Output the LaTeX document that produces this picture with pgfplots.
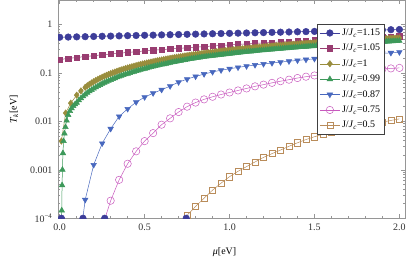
\documentclass[border=0pt]{standalone}
\usepackage{fontspec}
\setmainfont{Liberation Serif}
\usepackage{pgfplots}
\pgfplotsset{compat=1.18}

\definecolor{cA}{RGB}{61,61,153}
\definecolor{cB}{RGB}{153,61,113}
\definecolor{cC}{RGB}{153,141,61}
\definecolor{cD}{RGB}{61,153,90}
\definecolor{cE}{RGB}{72,104,190}
\definecolor{cF}{RGB}{200,90,190}
\definecolor{cG}{RGB}{185,140,90}
\definecolor{frame}{RGB}{150,150,150}

\begin{document}
\begin{tikzpicture}
\begin{axis}[
    width=347bp, height=218bp, scale only axis,
    ymode=log,
    xmin=-0.01, xmax=2.033,
    ymin=1e-4, ymax=3.13,
    axis line style={frame, line width=0.5bp},
    tick style={frame, line width=0.5bp},
    major tick length=4bp, minor tick length=2bp,
    tick align=inside,
    xtick={0,0.5,1,1.5,2},
    xticklabels={0.0,0.5,1.0,1.5,2.0},
    minor x tick num=4,
    ytick={1e-4,1e-3,1e-2,1e-1,1},
    yticklabels={10\textsuperscript{−4},0.001,0.01,0.1,1},
    tick label style={font=\fontsize{10}{11}\selectfont, text=black!80},
    yticklabel style={xshift=-2bp},
    xticklabel style={yshift=-2bp},
    xlabel={\textit{μ}[eV]},
    ylabel={\textit{T}\textsubscript{\textit{k}}[eV]},
    label style={font=\fontsize{10}{11}\selectfont},
    xlabel style={at={(axis description cs:0.48,-0.154)}, anchor=center},
    ylabel style={at={(axis description cs:-0.127,0.5)}, anchor=center, rotate=0},
    clip marker paths=true,
    legend cell align=left,
    legend style={at={(0.942,0.89)}, anchor=north east, draw=black!75,
        fill=white, font=\fontsize{10}{11}\selectfont, row sep=3.3bp,
        inner sep=2.5bp, line width=0.5bp},
    legend image code/.code={
        \draw[mark repeat=2,mark phase=2] plot coordinates {(0cm,0cm) (0.35cm,0cm) (0.7cm,0cm)};},
    every axis plot/.append style={line width=0.5bp},
]
% J/Jc = 1.15
\addplot[cA, mark=*, mark size=3.3bp] coordinates {
(0,0.540) (0.05,0.545) (0.1,0.550) (0.15,0.555) (0.2,0.560) (0.25,0.566) (0.3,0.571)
(0.35,0.576) (0.4,0.582) (0.45,0.587) (0.5,0.593) (0.55,0.598) (0.6,0.604) (0.65,0.609)
(0.7,0.615) (0.75,0.621) (0.8,0.626) (0.85,0.632) (0.9,0.638) (0.95,0.644) (1.0,0.650)
(1.05,0.656) (1.1,0.662) (1.15,0.668) (1.2,0.674) (1.25,0.681) (1.3,0.687) (1.35,0.693)
(1.4,0.700) (1.45,0.706) (1.5,0.713) (1.55,0.719) (1.6,0.726) (1.65,0.732) (1.7,0.739)
(1.75,0.746) (1.8,0.752) (1.85,0.759) (1.9,0.766) (1.95,0.773) (2.0,0.780)};
% J/Jc = 1.05
\addplot[cB, mark=square*, mark size=2.7bp] coordinates {
(0,0.188) (0.05,0.197) (0.1,0.207) (0.15,0.216) (0.2,0.225) (0.25,0.235) (0.3,0.244)
(0.35,0.253) (0.4,0.263) (0.45,0.272) (0.5,0.282) (0.55,0.291) (0.6,0.300) (0.65,0.310)
(0.7,0.319) (0.75,0.328) (0.8,0.338) (0.85,0.347) (0.9,0.356) (0.95,0.366) (1.0,0.375)
(1.05,0.384) (1.1,0.394) (1.15,0.403) (1.2,0.412) (1.25,0.422) (1.3,0.431) (1.35,0.440)
(1.4,0.450) (1.45,0.459) (1.5,0.469) (1.55,0.478) (1.6,0.487) (1.65,0.497) (1.7,0.506)
(1.75,0.515) (1.8,0.525) (1.85,0.534) (1.9,0.543) (1.95,0.553) (2.0,0.562)};
% J/Jc = 1
\addplot[cC, mark=diamond*, mark size=3.2bp] coordinates {
(0.01,0.0039) (0.035,0.0148) (0.065,0.0236) (0.1,0.0345) (0.125,0.0423)
(0.15,0.0501) (0.1625,0.0540) (0.175,0.0579) (0.1875,0.0618) (0.2,0.0656) (0.2125,0.0695)
(0.225,0.0733) (0.2375,0.0771) (0.25,0.0809) (0.2625,0.0847) (0.275,0.0885) (0.2875,0.0923)
(0.3,0.0961) (0.3125,0.0999) (0.325,0.1036) (0.3375,0.1074) (0.35,0.1111) (0.3625,0.1149)
(0.375,0.1186) (0.3875,0.1223) (0.4,0.1260) (0.4125,0.1297) (0.425,0.1334) (0.4375,0.1371)
(0.45,0.1407) (0.4625,0.1444) (0.475,0.1480) (0.4875,0.1517) (0.5,0.1553) (0.5125,0.1589)
(0.525,0.1625) (0.5375,0.1661) (0.55,0.1697) (0.5625,0.1733) (0.575,0.1769) (0.5875,0.1805)
(0.6,0.1840) (0.6125,0.1876) (0.625,0.1911) (0.6375,0.1946) (0.65,0.1981) (0.6625,0.2016)
(0.675,0.2051) (0.6875,0.2086) (0.7,0.2121) (0.7125,0.2156) (0.725,0.2190) (0.7375,0.2225)
(0.75,0.2259) (0.7625,0.2294) (0.775,0.2328) (0.7875,0.2362) (0.8,0.2396) (0.8125,0.2430)
(0.825,0.2464) (0.8375,0.2498) (0.85,0.2531) (0.8625,0.2565) (0.875,0.2598) (0.8875,0.2632)
(0.9,0.2665) (0.9125,0.2698) (0.925,0.2731) (0.9375,0.2764) (0.95,0.2797) (0.9625,0.2830)
(0.975,0.2863) (0.9875,0.2896) (1.0,0.2928) (1.0125,0.2961) (1.025,0.2993) (1.0375,0.3025)
(1.05,0.3057) (1.0625,0.3089) (1.075,0.3121) (1.0875,0.3153) (1.1,0.3185) (1.1125,0.3217)
(1.125,0.3248) (1.1375,0.3280) (1.15,0.3311) (1.1625,0.3343) (1.175,0.3374) (1.1875,0.3405)
(1.2,0.3436) (1.2125,0.3467) (1.225,0.3498) (1.2375,0.3529) (1.25,0.3559) (1.2625,0.3590)
(1.275,0.3620) (1.2875,0.3651) (1.3,0.3681) (1.3125,0.3711) (1.325,0.3741) (1.3375,0.3771)
(1.35,0.3801) (1.3625,0.3831) (1.375,0.3861) (1.3875,0.3891) (1.4,0.3920) (1.4125,0.3950)
(1.425,0.3979) (1.4375,0.4008) (1.45,0.4037) (1.4625,0.4066) (1.475,0.4095) (1.4875,0.4124)
(1.5,0.4153) (1.5125,0.4182) (1.525,0.4210) (1.5375,0.4239) (1.55,0.4267) (1.5625,0.4296)
(1.575,0.4324) (1.5875,0.4352) (1.6,0.4380) (1.6125,0.4408) (1.625,0.4436) (1.6375,0.4464)
(1.65,0.4491) (1.6625,0.4519) (1.675,0.4546) (1.6875,0.4574) (1.7,0.4601) (1.7125,0.4628)
(1.725,0.4655) (1.7375,0.4682) (1.75,0.4709) (1.7625,0.4736) (1.775,0.4763) (1.7875,0.4790)
(1.8,0.4816) (1.8125,0.4843) (1.825,0.4869) (1.8375,0.4895) (1.85,0.4921) (1.8625,0.4947)
(1.875,0.4973) (1.8875,0.4999) (1.9,0.5025) (1.9125,0.5051) (1.925,0.5076) (1.9375,0.5102)
(1.95,0.5127) (1.9625,0.5153) (1.975,0.5178) (1.9875,0.5203) (2.0,0.5228)};
% J/Jc = 0.99
\addplot[cD, mark=triangle*, mark size=3.2bp] coordinates {
(0.0105,0.00003) (0.012,0.000145) (0.014,0.00048) (0.016,0.0010) (0.019,0.0022)
(0.023,0.0039) (0.028,0.0056) (0.034,0.0076) (0.041,0.0103) (0.05,0.0135) (0.06,0.0163)
(0.07,0.0185) (0.08,0.0205) (0.09,0.0223) (0.1,0.0242) (0.1125,0.0270)
(0.125,0.0298) (0.1375,0.0327) (0.15,0.0356) (0.1625,0.0385) (0.175,0.0414) (0.1875,0.0443)
(0.2,0.0472) (0.2125,0.0502) (0.225,0.0531) (0.2375,0.0561) (0.25,0.0591) (0.2625,0.0621)
(0.275,0.0651) (0.2875,0.0681) (0.3,0.0711) (0.3125,0.0742) (0.325,0.0772) (0.3375,0.0803)
(0.35,0.0834) (0.3625,0.0865) (0.375,0.0895) (0.3875,0.0927) (0.4,0.0958) (0.4125,0.0989)
(0.425,0.1020) (0.4375,0.1052) (0.45,0.1084) (0.4625,0.1116) (0.475,0.1147) (0.4875,0.1179)
(0.5,0.1211) (0.5125,0.1244) (0.525,0.1276) (0.5375,0.1309) (0.55,0.1341) (0.5625,0.1374)
(0.575,0.1406) (0.5875,0.1439) (0.6,0.1472) (0.6125,0.1505) (0.625,0.1538) (0.6375,0.1572)
(0.65,0.1605) (0.6625,0.1639) (0.675,0.1672) (0.6875,0.1706) (0.7,0.1739) (0.7125,0.1773)
(0.725,0.1807) (0.7375,0.1841) (0.75,0.1875) (0.7625,0.1910) (0.775,0.1944) (0.7875,0.1979)
(0.8,0.2013) (0.8125,0.2042) (0.825,0.2071) (0.8375,0.2101) (0.85,0.2130) (0.8625,0.2159)
(0.875,0.2188) (0.8875,0.2217) (0.9,0.2245) (0.9125,0.2274) (0.925,0.2303) (0.9375,0.2332)
(0.95,0.2360) (0.9625,0.2389) (0.975,0.2417) (0.9875,0.2446) (1.0,0.2474) (1.0125,0.2503)
(1.025,0.2531) (1.0375,0.2559) (1.05,0.2587) (1.0625,0.2615) (1.075,0.2643) (1.0875,0.2671)
(1.1,0.2699) (1.1125,0.2727) (1.125,0.2755) (1.1375,0.2783) (1.15,0.2811) (1.1625,0.2839)
(1.175,0.2866) (1.1875,0.2894) (1.2,0.2921) (1.2125,0.2948) (1.225,0.2975) (1.2375,0.3003)
(1.25,0.3030) (1.2625,0.3057) (1.275,0.3084) (1.2875,0.3111) (1.3,0.3138) (1.3125,0.3165)
(1.325,0.3192) (1.3375,0.3219) (1.35,0.3246) (1.3625,0.3273) (1.375,0.3299) (1.3875,0.3326)
(1.4,0.3352) (1.4125,0.3378) (1.425,0.3404) (1.4375,0.3431) (1.45,0.3457) (1.4625,0.3483)
(1.475,0.3509) (1.4875,0.3535) (1.5,0.3561) (1.5125,0.3587) (1.525,0.3613) (1.5375,0.3639)
(1.55,0.3665) (1.5625,0.3691) (1.575,0.3716) (1.5875,0.3742) (1.6,0.3767) (1.6125,0.3793)
(1.625,0.3818) (1.6375,0.3843) (1.65,0.3868) (1.6625,0.3893) (1.675,0.3918) (1.6875,0.3943)
(1.7,0.3968) (1.7125,0.3993) (1.725,0.4018) (1.7375,0.4043) (1.75,0.4068) (1.7625,0.4093)
(1.775,0.4117) (1.7875,0.4142) (1.8,0.4166) (1.8125,0.4190) (1.825,0.4214) (1.8375,0.4239)
(1.85,0.4263) (1.8625,0.4287) (1.875,0.4311) (1.8875,0.4335) (1.9,0.4359) (1.9125,0.4383)
(1.925,0.4407) (1.9375,0.4431) (1.95,0.4455) (1.9625,0.4479) (1.975,0.4502) (1.9875,0.4525)
(2.0,0.4548)};
% J/Jc = 0.87
\addplot[cE, mark=triangle*, mark options={rotate=180}, mark size=3.2bp] coordinates {
(0.1,0.00001) (0.15,0.00024) (0.2,0.00126) (0.25,0.0035) (0.3,0.0070) (0.35,0.0126)
(0.4,0.0180) (0.45,0.0248) (0.5,0.0314) (0.55,0.0380) (0.6,0.0447) (0.65,0.0530)
(0.7,0.0640) (0.75,0.0740) (0.8,0.0840) (0.85,0.0940) (0.9,0.104) (0.95,0.113)
(1.0,0.121) (1.05,0.129) (1.1,0.137) (1.15,0.145) (1.2,0.152) (1.25,0.159) (1.3,0.166)
(1.35,0.173) (1.4,0.180) (1.45,0.187) (1.5,0.194) (1.55,0.201) (1.6,0.208) (1.65,0.216)
(1.7,0.223) (1.75,0.230) (1.8,0.237) (1.85,0.244) (1.9,0.251) (1.95,0.258) (2.0,0.266)};
% J/Jc = 0.75
\addplot[cF, mark=o, mark size=3.7bp] coordinates {
(0.25,0.000065) (0.3,0.00023) (0.35,0.00062) (0.4,0.00133) (0.45,0.0024) (0.5,0.0039)
(0.55,0.0057) (0.6,0.0085) (0.65,0.0115) (0.7,0.0155) (0.75,0.0200) (0.8,0.0243)
(0.85,0.0283) (0.9,0.0320) (0.95,0.0356) (1.0,0.0392) (1.05,0.0432) (1.1,0.0475)
(1.15,0.0525) (1.2,0.0570) (1.25,0.0620) (1.3,0.0670) (1.35,0.0720) (1.4,0.0780)
(1.45,0.0830) (1.5,0.0880) (1.55,0.0930) (1.6,0.0980) (1.65,0.102) (1.7,0.106)
(1.75,0.110) (1.8,0.114) (1.85,0.117) (1.9,0.120) (1.95,0.123) (2.0,0.126)};
% J/Jc = 0.5
\addplot[cG, mark=square, mark size=3.1bp] coordinates {
(0.7,0.00003) (0.75,0.000115) (0.8,0.000175) (0.85,0.00026) (0.9,0.00038) (0.95,0.00053)
(1.0,0.00072) (1.05,0.00093) (1.1,0.00116) (1.15,0.00145) (1.2,0.0018) (1.25,0.00215)
(1.3,0.00255) (1.35,0.00305) (1.4,0.0036) (1.45,0.0042) (1.5,0.0048) (1.55,0.0054)
(1.6,0.0060) (1.65,0.0066) (1.7,0.0071) (1.75,0.0077) (1.8,0.0083) (1.85,0.0089)
(1.9,0.0096) (1.95,0.0104) (2.0,0.0112)};
% thresholds on the lower frame
\addplot[cA, only marks, mark=*, mark size=3.3bp, forget plot] coordinates {
(0.01,0.0001) (0.137,0.0001) (0.265,0.0001) (0.745,0.0001)};
\legend{J/\textit{J}\textsubscript{\textit{c}}=1.15, J/\textit{J}\textsubscript{\textit{c}}=1.05,
  J/\textit{J}\textsubscript{\textit{c}}=1, J/\textit{J}\textsubscript{\textit{c}}=0.99,
  J/\textit{J}\textsubscript{\textit{c}}=0.87, J/\textit{J}\textsubscript{\textit{c}}=0.75,
  J/\textit{J}\textsubscript{\textit{c}}=0.5}
\end{axis}
\path ([shift={(-58bp,-42bp)}]current axis.south west) rectangle ([shift={(10bp,0bp)}]current axis.north east);
\end{tikzpicture}
\end{document}
